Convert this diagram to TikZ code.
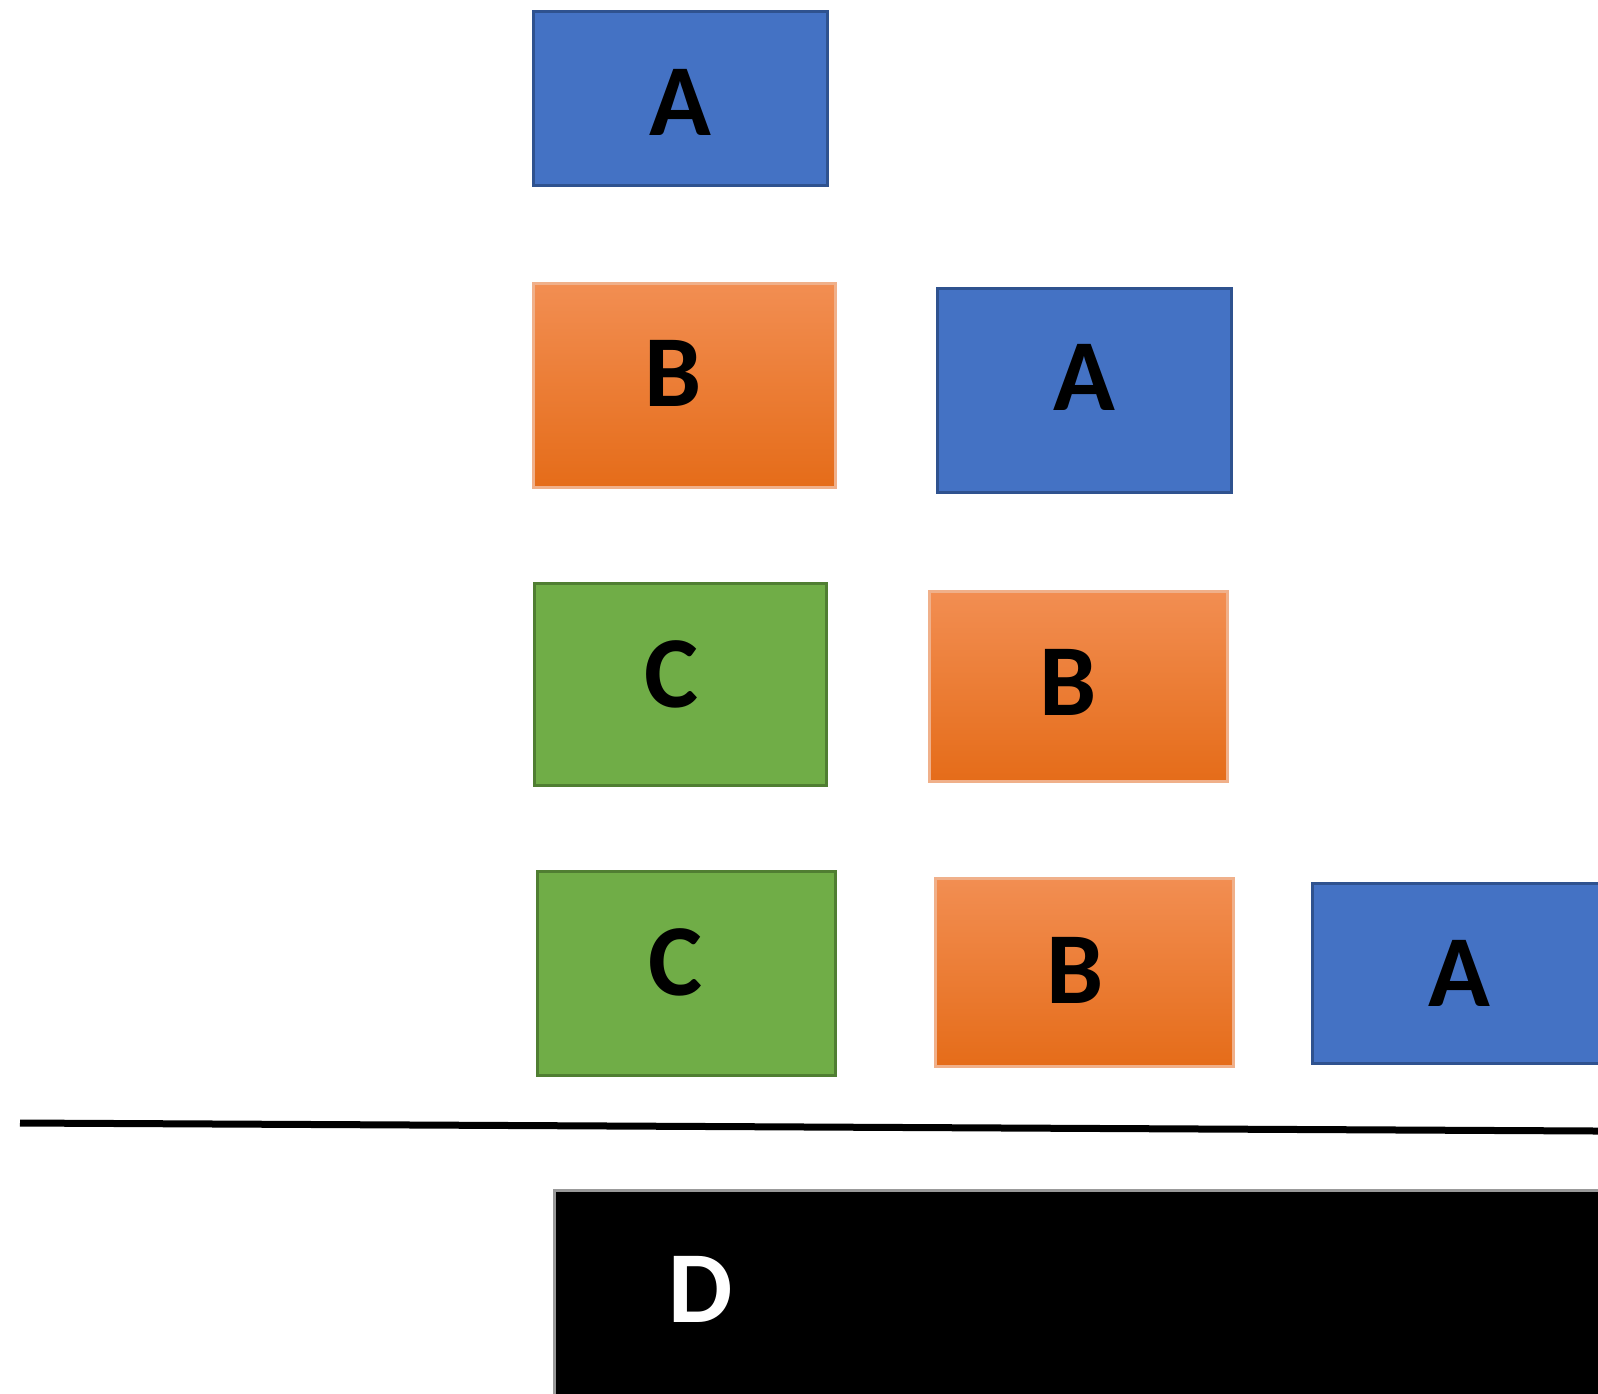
\documentclass[tikz,border=0pt]{standalone}
\usepackage{fontspec}
\setmainfont{Carlito}
\usepackage{xcolor}
\usepackage{tikz}
\usetikzlibrary{positioning,calc}

\definecolor{ablue}{HTML}{4472C4}
\definecolor{abluedark}{HTML}{2F528F}
\definecolor{borangetop}{HTML}{F28E52}
\definecolor{borangebot}{HTML}{E56C19}
\definecolor{borangeedge}{HTML}{F0B08A}
\definecolor{cgreen}{HTML}{70AD47}
\definecolor{cgreendark}{HTML}{507E32}

\begin{document}
\begin{tikzpicture}[x=0.5pt, y=-0.5pt]
% Define styles for the boxes
\tikzstyle{letter} = [font=\bfseries\fontsize{51}{60}\selectfont, inner sep=0pt]
\tikzstyle{box} = [rectangle, line width=1.5pt]
\tikzstyle{ablock} = [box, fill=ablue, draw=abluedark]
\tikzstyle{bblock} = [box, top color=borangetop, bottom color=borangebot, draw=borangeedge]
\tikzstyle{cblock} = [box, fill=cgreen, draw=cgreendark]
\tikzstyle{dblock} = [rectangle, fill=black, draw=black!40, line width=1.5pt]

\useasboundingbox (0,0) rectangle (1598,1393);

% Row 1
\node [ablock, minimum width=147pt, minimum height=87pt,
  label={[letter, yshift=-2pt]center:A}] (a1) at (680.5,98) {};

% Row 2
\node [bblock, minimum width=151pt, minimum height=102pt,
  label={[letter, xshift=-5.5pt, yshift=6pt]center:B}] (b1) at (684,385.5) {};
\node [ablock, minimum width=147pt, minimum height=102pt,
  label={[letter, yshift=6.5pt]center:A}] (a2) at (1084,390.5) {};

% Row 3
\node [cblock, minimum width=146pt, minimum height=101pt,
  label={[letter, xshift=-4.5pt, yshift=5pt]center:C}] (c1) at (680,684.5) {};
\node [bblock, minimum width=149pt, minimum height=95pt,
  label={[letter, xshift=-5pt, yshift=2pt]center:B}] (b2) at (1078.5,686) {};

% Row 4
\node [cblock, minimum width=149pt, minimum height=102pt,
  label={[letter, xshift=-5.5pt, yshift=5.5pt]center:C}] (c2) at (686,973) {};
\node [bblock, minimum width=149pt, minimum height=94pt,
  label={[letter, xshift=-4.5pt, yshift=1pt]center:B}] (b3) at (1084,972.5) {};
\node [ablock, minimum width=147pt, minimum height=90pt,
  label={[letter]center:A}] (a3) at (1459.5,973) {};

% Ground line
\coordinate (gl) at (20,1123);
\coordinate (gr) at (1598,1131);
\draw [line width=3.5pt] (gl) -- (gr);

% Base block
\node [dblock, anchor=north west, minimum width=600pt, minimum height=150pt] (base) at (553,1189) {};
\node [letter, text=white] (dlab) at (701,1289) {D};

\end{tikzpicture}
\end{document}
